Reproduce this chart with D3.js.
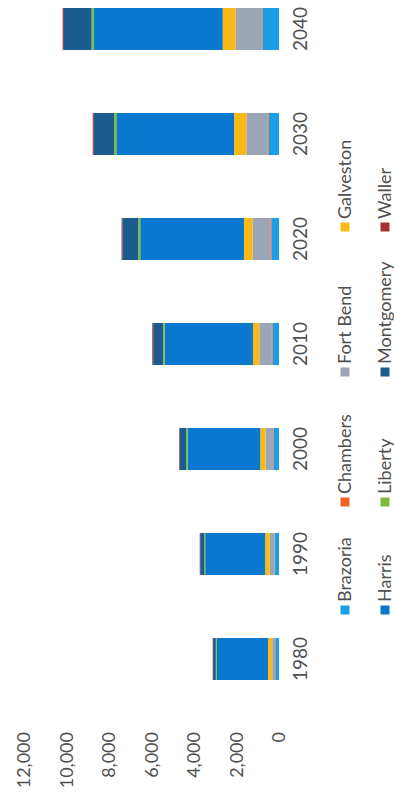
<!DOCTYPE html>
<html>
<head>
<meta charset="utf-8">
<script src="https://cdn.jsdelivr.net/npm/d3@7"></script>
<style>
  html, body { margin: 0; padding: 0; background: #ffffff; }
  svg { display: block; }
  text { font-family: Lato, "Open Sans", sans-serif; fill: #505050; }
</style>
</head>
<body>
<div id="chart"></div>
<script>
// Population by county, Houston-Galveston region (thousands)
const years = ["1980", "1990", "2000", "2010", "2020", "2030", "2040"];
const counties = ["Brazoria", "Chambers", "Fort Bend", "Galveston", "Harris", "Liberty", "Montgomery", "Waller"];
const brazoria   = [170, 190, 250, 300, 340, 480, 780];
const chambers   = [19, 20, 26, 35, 40, 45, 50];
const fortBend   = [130, 225, 355, 590, 860, 1010, 1220];
const galveston  = [196, 217, 250, 300, 410, 580, 600];
const harris     = [2410, 2820, 3420, 4160, 4880, 5540, 6060];
const liberty    = [48, 53, 70, 76, 100, 110, 110];
const montgomery = [128, 182, 295, 460, 740, 950, 1300];
const waller     = [19, 23, 33, 43, 40, 50, 60];
const tickValues = [0, 2000, 4000, 6000, 8000, 10000, 12000];
const colors = ["#1a9ee6", "#f4622a", "#9aa5b5", "#fbb917", "#0b78cf", "#7dbb3a", "#1b5c8f", "#a83232"];

const seriesValues = [brazoria, chambers, fortBend, galveston, harris, liberty, montgomery, waller];
const rows = years.map((y, i) => {
  const r = { year: y };
  counties.forEach((c, k) => { r[c] = seriesValues[k][i]; });
  return r;
});

const W = 394, H = 802;          // page size
const svg = d3.select("#chart").append("svg").attr("width", W).attr("height", H);
// the chart is laid out as upright columns, then turned a quarter turn counter-clockwise
const g = svg.append("g").attr("transform", `translate(0,${H}) rotate(-90)`);

const x = d3.scaleBand().domain(years).range([90.5, 825.5]).paddingInner(0.6).paddingOuter(0.3);
const y = d3.scaleLinear().domain([0, 12000]).range([279, 24]);
const color = d3.scaleOrdinal().domain(counties).range(colors);

const stacked = d3.stack().keys(counties)(rows);

g.append("g").selectAll("g").data(stacked).join("g")
  .attr("fill", d => color(d.key))
  .selectAll("rect").data(d => d).join("rect")
  .attr("x", d => x(d.data.year))
  .attr("width", x.bandwidth())
  .attr("y", d => y(d[1]))
  .attr("height", d => y(d[0]) - y(d[1]));

// value axis labels
const yAxis = d3.axisLeft(y).tickValues(tickValues).tickFormat(d3.format(",")).tickSize(0).tickPadding(0);
const ya = g.append("g").attr("transform", "translate(70,0)").call(yAxis);
ya.select(".domain").remove();
ya.selectAll("text").style("font-size", "18px").style("font-family", "Lato, sans-serif").attr("fill", "#505050");

// year labels
const xAxis = d3.axisBottom(x).tickSize(0).tickPadding(0);
const xa = g.append("g").attr("transform", "translate(0,293)").call(xAxis);
xa.select(".domain").remove();
xa.selectAll("text").style("font-size", "19px").style("font-family", "Lato, sans-serif").attr("fill", "#505050");

// legend: two rows, four columns
const legendCols = [192, 300, 430, 575];
const legendRows = [345, 385];
const legend = g.append("g");
counties.forEach((c, k) => {
  const col = k % 4, row = Math.floor(k / 4);
  const item = legend.append("g").attr("transform", `translate(${legendCols[col]},${legendRows[row]})`);
  item.append("rect").attr("x", -4.5).attr("y", -4.5).attr("width", 9).attr("height", 9).attr("fill", color(c));
  item.append("text").attr("x", 8).attr("dy", "0.35em").style("font-size", "18px").text(c);
});
</script>
</body>
</html>
